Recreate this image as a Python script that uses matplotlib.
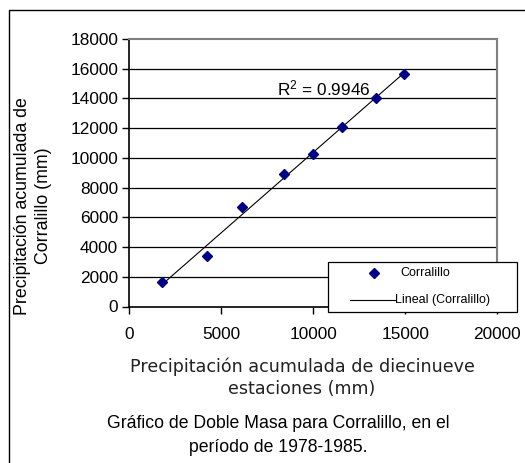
import numpy as np
import matplotlib
matplotlib.use("Agg")
import matplotlib.pyplot as plt
from matplotlib.patches import Rectangle
from matplotlib.lines import Line2D

# Data
x_vals = [1790, 4210, 6110, 8420, 10000, 11580, 13390, 14930]
y_vals = [1650, 3400, 6700, 8900, 10250, 12090, 14020, 15660]
series_name = "Corralillo"
trend_name = "Lineal (Corralillo)"
r2_text = "R$^2$ = 0.9946"
x_ticks = [0, 5000, 10000, 15000, 20000]
y_ticks = list(range(0, 18001, 2000))

arial = "Liberation Sans"
plt.rcParams["mathtext.fontset"] = "custom"
plt.rcParams["mathtext.rm"] = arial
plt.rcParams["mathtext.it"] = arial
plt.rcParams["mathtext.default"] = "regular"

W, H = 525, 463
fig = plt.figure(figsize=(W / 100, H / 100), dpi=100)
fig.patch.set_facecolor("white")

# Outer frame (cut at right/bottom like the reference)
fig.patches.append(Rectangle((9 / W, -0.05), 1.2, 1 - 9.5 / H + 0.05,
                             transform=fig.transFigure, fill=False,
                             edgecolor="black", linewidth=1.0))

ax = fig.add_axes([129.3 / W, 1 - 306.5 / H, (497.3 - 129.3) / W, (306.5 - 39) / H])
ax.set_xlim(0, 20000)
ax.set_ylim(0, 18000)
ax.set_xticks(x_ticks)
ax.set_yticks(y_ticks)
ax.set_xticklabels([str(t) for t in x_ticks], fontfamily=arial, fontsize=12.4)
ax.set_yticklabels([str(t) for t in y_ticks], fontfamily=arial, fontsize=12.4)
ax.tick_params(axis="both", direction="out", length=5, width=1, color="black")
ax.tick_params(axis="x", pad=10)
ax.tick_params(axis="y", pad=3)

for t in y_ticks[1:-1]:
    ax.axhline(t, color="black", linewidth=0.9, zorder=1)

for s in ["top", "right"]:
    ax.spines[s].set_color("#808080")
    ax.spines[s].set_linewidth(1.5)
for s in ["left", "bottom"]:
    ax.spines[s].set_color("black")
    ax.spines[s].set_linewidth(1.2)

xa = np.array(x_vals, dtype=float)
ya = np.array(y_vals, dtype=float)
m, b = np.polyfit(xa, ya, 1)
xl = np.array([xa.min(), xa.max()])
ax.plot(xl, m * xl + b, color="black", linewidth=0.8, zorder=2)
ax.plot(xa, ya, linestyle="none", marker="D", markersize=5,
        color="#000080", zorder=3)

ax.text(8030, 14700, r2_text, fontfamily=arial, fontsize=12.4,
        ha="left", va="center")

# Legend box (extends beyond plot area)
leg_x0, leg_y0, leg_x1, leg_y1 = 328 / W, 1 - 312 / H, 517 / W, 1 - 262 / H
fig.patches.append(Rectangle((leg_x0, leg_y0), leg_x1 - leg_x0, leg_y1 - leg_y0,
                             transform=fig.transFigure, facecolor="white",
                             edgecolor="black", linewidth=0.9, zorder=5))
row1 = 1 - 273 / H
row2 = 1 - 300 / H
fig.add_artist(Line2D([374 / W], [row1], marker="D", markersize=5,
                      color="#000080", linestyle="none",
                      transform=fig.transFigure, zorder=6))
fig.add_artist(Line2D([350 / W, 395 / W], [row2, row2], color="black",
                      linewidth=0.8, transform=fig.transFigure, zorder=6))
fig.text(400 / W, row1, series_name, fontfamily=arial, fontsize=9,
         ha="left", va="center", zorder=7)
fig.text(395 / W, row2, trend_name, fontfamily=arial, fontsize=9,
         ha="left", va="center", zorder=7)

# Axis labels
fig.text(302 / W, 1 - 367 / H, "Precipitación acumulada de diecinueve",
         fontfamily="DejaVu Sans", fontsize=12.6, ha="center", va="center",
         color="#222222")
fig.text(302 / W, 1 - 389 / H, "estaciones (mm)",
         fontfamily="DejaVu Sans", fontsize=12.6, ha="center", va="center",
         color="#222222")
fig.text(33 / W, 1 - 206 / H, "Precipitación acumulada de\nCorralillo (mm)",
         fontfamily=arial, fontsize=12.8, rotation=90, ha="center",
         va="center", multialignment="center", linespacing=1.3)

# Caption
fig.text(278 / W, 1 - 424 / H, "Gráfico de Doble Masa para Corralillo, en el",
         fontfamily=arial, fontsize=12.7, ha="center", va="center")
fig.text(278 / W, 1 - 447 / H, "período de 1978-1985.",
         fontfamily=arial, fontsize=12.7, ha="center", va="center")

fig.savefig("out.png", dpi=100)
